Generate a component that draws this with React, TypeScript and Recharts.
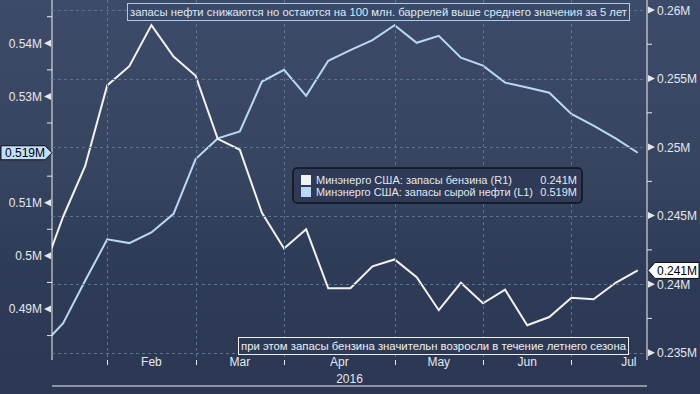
import { Line, LineChart, XAxis, YAxis } from 'recharts';

// weekly EIA reports (Fridays); the first one sits just left of the plot edge
const weeks = [
  '2016-01-15', '2016-01-22', '2016-01-29', '2016-02-05', '2016-02-12', '2016-02-19', '2016-02-26',
  '2016-03-04', '2016-03-11', '2016-03-18', '2016-03-25', '2016-04-01', '2016-04-08', '2016-04-15',
  '2016-04-22', '2016-04-29', '2016-05-06', '2016-05-13', '2016-05-20', '2016-05-27', '2016-06-03',
  '2016-06-10', '2016-06-17', '2016-06-24', '2016-07-01', '2016-07-08', '2016-07-15', '2016-07-22',
];

// millions of barrels
const gasoline = [
  0.2405, 0.2449, 0.2486, 0.2545, 0.2559, 0.2589, 0.2566, 0.2552, 0.2506, 0.2498, 0.2452, 0.2426,
  0.244, 0.2397, 0.2397, 0.2413, 0.2418, 0.2405, 0.2381, 0.2401, 0.2386, 0.2396, 0.237, 0.2376,
  0.239, 0.2389, 0.2401, 0.241,
];
const crude = [
  0.4829, 0.4873, 0.4953, 0.5031, 0.5024, 0.5044, 0.5079, 0.5182, 0.5221, 0.5234, 0.5328, 0.535,
  0.5301, 0.5367, 0.5387, 0.5406, 0.5434, 0.5401, 0.5414, 0.5373, 0.5358, 0.5326, 0.5317, 0.5307,
  0.5267, 0.5245, 0.5221, 0.5194,
];

const monthNames = ['Feb', 'Mar', 'Apr', 'May', 'Jun', 'Jul'];
const monthLabelAt = [4, 8, 12.5, 17, 21, 25.6];

// 0.52M is hidden under the last-value tag in the original
const leftTicks = [0.485, 0.49, 0.495, 0.5, 0.505, 0.51, 0.515, 0.525, 0.53, 0.535, 0.54, 0.545];
const leftLabels = [0.49, 0.5, 0.51, 0.53, 0.54];
const rightTicks = [0.235, 0.2375, 0.24, 0.2425, 0.245, 0.2475, 0.25, 0.2525, 0.255, 0.2575, 0.26];
const rightLabels = [0.235, 0.24, 0.245, 0.25, 0.255, 0.26];

const seriesNames = ['Минэнерго США: запасы бензина (R1)', 'Минэнерго США: запасы сырой нефти (L1)'];
const noteTop = 'запасы нефти снижаются но остаются на 100 млн. баррелей выше среднего значения за 5 лет';
const noteBottom = 'при этом запасы бензина значительн возросли в течение летнего сезона';

const data = weeks.map((week, i) => ({ week, idx: i - 1, gasoline: gasoline[i], crude: crude[i] }));
const monthStarts = data
  .filter((d, i) => i > 0 && d.week.slice(5, 7) !== data[i - 1].week.slice(5, 7))
  .map((d) => d.idx);

const lastGas = gasoline[gasoline.length - 1];
const lastCrude = crude[crude.length - 1];

const PLOT_W = 595;
const PLOT_BOTTOM = 360;
const FONT = '"Liberation Sans", Arial, sans-serif';
const TEXT = '#e4e8ee';
const GAS = '#f2f2f2';
const OIL = '#b9d8f6';
const GRID = '#5a748e';

const has = (list: number[], v: number) => list.some((x) => Math.abs(x - v) < 1e-6);
const fmtAxis = (v: number) => `${parseFloat(v.toFixed(4))}M`;
const fmtLast = (v: number) => `${v.toFixed(3)}M`;

const LeftTick = ({ x, y, payload }: any) => {
  const v = payload.value;
  if (v === lastCrude) {
    return (
      <g>
        <polygon
          points={`1,${y - 7} ${x - 7},${y - 7} ${x},${y} ${x - 7},${y + 7} 1,${y + 7}`}
          fill="#c4dffa"
          stroke="#0b0f18"
        />
        <text x={5} y={y + 4.5} fontSize={12} fontFamily={FONT} fill="#000">
          {fmtLast(v)}
        </text>
      </g>
    );
  }
  if (has(leftLabels, v)) {
    return (
      <g>
        <polygon points={`${x - 8},${y} ${x - 1},${y - 3.5} ${x - 1},${y + 3.5}`} fill={TEXT} />
        <text x={x - 10} y={y + 4.5} textAnchor="end" fontSize={12} fontFamily={FONT} fill={TEXT}>
          {fmtAxis(v)}
        </text>
      </g>
    );
  }
  return <line x1={x - 5} x2={x} y1={y} y2={y} stroke={TEXT} />;
};

const RightTick = ({ x, y, payload }: any) => {
  const v = payload.value;
  if (v === lastGas) {
    return (
      <g>
        <polygon
          points={`${x + 1},${y} ${x + 8},${y - 8} 699,${y - 8} 699,${y + 8} ${x + 8},${y + 8}`}
          fill="#ffffff"
          stroke="#0b0f18"
        />
        <text x={x + 10} y={y + 4.5} fontSize={12} fontFamily={FONT} fill="#000">
          {fmtLast(v)}
        </text>
      </g>
    );
  }
  if (has(rightLabels, v)) {
    const gy = Math.round(y) + 0.5;
    return (
      <g>
        <line x1={x - PLOT_W} x2={x - 1} y1={gy} y2={gy} stroke={GRID} strokeDasharray="3 3" />
        <polygon points={`${x + 1},${y - 3.5} ${x + 1},${y + 3.5} ${x + 8},${y}`} fill={TEXT} />
        <text x={x + 10} y={y + 4.5} fontSize={12} fontFamily={FONT} fill={TEXT}>
          {fmtAxis(v)}
        </text>
      </g>
    );
  }
  return <line x1={x} x2={x + 5} y1={y} y2={y} stroke={TEXT} />;
};

// month-start tick: short mark under the axis plus a dashed grid line up the plot
const MonthStartTick = ({ x }: any) => {
  const gx = Math.round(x) + 0.5;
  return (
    <g>
      <line x1={gx} x2={gx} y1={0} y2={PLOT_BOTTOM - 1} stroke={GRID} strokeDasharray="3 3" />
      <line x1={gx} x2={gx} y1={PLOT_BOTTOM} y2={PLOT_BOTTOM + 5} stroke={TEXT} />
    </g>
  );
};

const MonthTick = ({ x, y, index }: any) => (
  <text x={x} y={y + 6} textAnchor="middle" fontSize={12} fontFamily={FONT} fill={TEXT}>
    {monthNames[index]}
  </text>
);

const Overlay = () => (
  <svg
    width={700}
    height={394}
    style={{ position: 'absolute', left: 0, top: 0, pointerEvents: 'none' }}
    fontFamily={FONT}
  >
    <rect x={127.5} y={3.5} width={502} height={17} fill="#3b4968" stroke="#a9cdee" />
    <text x={130} y={16} fontSize={11} fill="#dbe9f7" textLength={497} lengthAdjust="spacingAndGlyphs">
      {noteTop}
    </text>

    <rect x={238.5} y={337.5} width={390} height={17} fill="#2d3a56" stroke="#f0f0f0" />
    <text x={241} y={350} fontSize={11} fill="#f0f0f0" textLength={385} lengthAdjust="spacingAndGlyphs">
      {noteBottom}
    </text>

    <rect x={293} y={168} width={289} height={35} rx={4} fill="#2e3a56" stroke="#0e131c" strokeWidth={1.5} />
    <rect x={301} y={175} width={10} height={10} fill={GAS} />
    <rect x={301} y={187} width={10} height={10} fill={OIL} />
    <text x={316} y={184} fontSize={11} fill={TEXT} textLength={196} lengthAdjust="spacingAndGlyphs">
      {seriesNames[0]}
    </text>
    <text x={316} y={196} fontSize={11} fill={TEXT} textLength={217} lengthAdjust="spacingAndGlyphs">
      {seriesNames[1]}
    </text>
    <text x={577} y={184} fontSize={11} fill={TEXT} textAnchor="end">
      {fmtLast(lastGas)}
    </text>
    <text x={577} y={196} fontSize={11} fill={TEXT} textAnchor="end">
      {fmtLast(lastCrude)}
    </text>
  </svg>
);

export default function App() {
  return (
    <div
      style={{
        position: 'relative',
        width: 700,
        height: 394,
        background: 'linear-gradient(to bottom, #3d4b6a 0%, #36445f 45%, #2f3c58 65%, #2b3753 100%)',
      }}
    >
      <style>{`body { margin: 0; }`}</style>
      <LineChart width={700} height={394} data={data} margin={{ top: 0, right: 0, bottom: 0, left: 0 }}>
        <XAxis
          xAxisId="main"
          dataKey="idx"
          type="number"
          domain={[-0.498, 26.42]}
          allowDataOverflow
          ticks={monthStarts}
          interval={0}
          tick={<MonthStartTick />}
          tickSize={5}
          tickMargin={0}
          height={8}
          axisLine={{ stroke: '#f0f0f0' }}
          tickLine={false}
        />
        <XAxis
          xAxisId="lbl"
          dataKey="idx"
          type="number"
          domain={[-0.498, 26.42]}
          allowDataOverflow
          ticks={monthLabelAt}
          interval={0}
          tick={<MonthTick />}
          tickSize={0}
          tickMargin={0}
          height={26}
          axisLine={false}
          tickLine={false}
          label={{ value: '2016', position: 'insideBottom', offset: 3, fill: TEXT, fontSize: 12, fontFamily: FONT }}
        />
        <YAxis
          yAxisId="left"
          orientation="left"
          width={52}
          domain={[0.480402, 0.548148]}
          allowDataOverflow
          ticks={[...leftTicks, lastCrude]}
          interval={0}
          tick={<LeftTick />}
          tickSize={0}
          tickMargin={0}
          tickLine={false}
          axisLine={{ stroke: '#f0f0f0' }}
        />
        <YAxis
          yAxisId="right"
          orientation="right"
          width={53}
          domain={[0.234466, 0.26073]}
          allowDataOverflow
          ticks={[...rightTicks, lastGas]}
          interval={0}
          tick={<RightTick />}
          tickSize={0}
          tickMargin={0}
          tickLine={false}
          axisLine={{ stroke: '#f0f0f0' }}
        />
        <Line
          xAxisId="main"
          yAxisId="left"
          dataKey="crude"
          stroke={OIL}
          strokeWidth={2}
          dot={false}
          activeDot={false}
          isAnimationActive={false}
        />
        <Line
          xAxisId="main"
          yAxisId="right"
          dataKey="gasoline"
          stroke={GAS}
          strokeWidth={2}
          dot={false}
          activeDot={false}
          isAnimationActive={false}
        />
      </LineChart>
      <Overlay />
    </div>
  );
}
